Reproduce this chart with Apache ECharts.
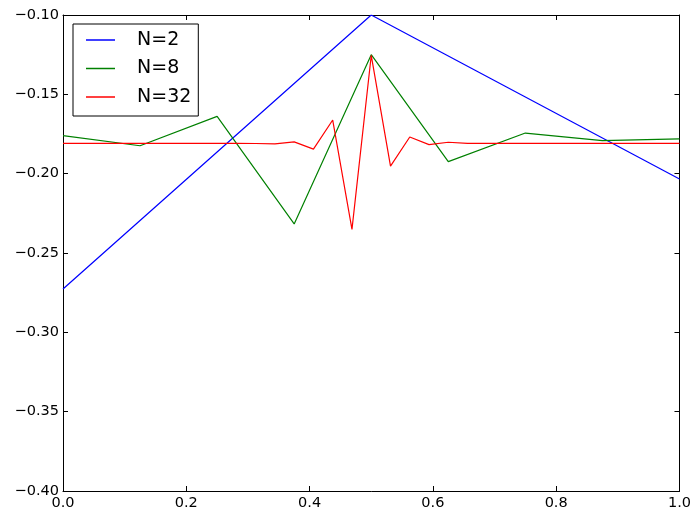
<!DOCTYPE html>
<html>
<head>
<meta charset="utf-8">
<script src="https://cdn.jsdelivr.net/npm/echarts@6/dist/echarts.min.js"></script>
<style>
html,body{margin:0;padding:0;background:#fff;}
#chart{width:694px;height:515px;}
</style>
</head>
<body>
<div id="chart"></div>
<script>
const seriesNames = ['N=2', 'N=8', 'N=32'];
const x2 = [0, 0.5, 1.0];
const y2 = [-0.2727, -0.1000, -0.2034];
const x8 = [0, 0.125, 0.25, 0.375, 0.5, 0.625, 0.75, 0.875, 1.0];
const y8 = [-0.1760, -0.1824, -0.1639, -0.2317, -0.1250, -0.1924, -0.1744, -0.1792, -0.1781];
const x32 = [0, 1/32, 2/32, 3/32, 4/32, 5/32, 6/32, 7/32, 8/32, 9/32, 10/32, 11/32, 12/32, 13/32, 14/32, 15/32, 16/32,
             17/32, 18/32, 19/32, 20/32, 21/32, 22/32, 23/32, 24/32, 25/32, 26/32, 27/32, 28/32, 29/32, 30/32, 31/32, 1.0];
const y32 = [-0.1809, -0.1809, -0.1809, -0.1809, -0.1809, -0.1809, -0.1809, -0.1809, -0.1809, -0.1809, -0.1810, -0.1812,
             -0.1800, -0.1845, -0.1662, -0.2351, -0.1255, -0.1952, -0.1769, -0.1817, -0.1802, -0.1809, -0.1809,
             -0.1809, -0.1809, -0.1809, -0.1809, -0.1809, -0.1809, -0.1809, -0.1809, -0.1809, -0.1809];
const xTicks = [0, 0.2, 0.4, 0.6, 0.8, 1.0];
const yTicks = [-0.40, -0.35, -0.30, -0.25, -0.20, -0.15, -0.10];
const colors = ['#0000ff', '#008000', '#ff0000'];

function pairs(xs, ys) { return xs.map((x, i) => [x, ys[i]]); }
const font = 'DejaVu Sans';
const fmtY = v => (v < 0 ? '\u2212' : '') + Math.abs(v).toFixed(2);
const fmtX = v => v.toFixed(1);

const axisCommon = {
  axisLine: {show: true, onZero: false, lineStyle: {color: '#000', width: 1}},
  axisTick: {show: true, inside: true, length: 5, lineStyle: {color: '#000', width: 1}},
  splitLine: {show: false}
};

const chart = echarts.init(document.getElementById('chart'), null, {renderer: 'canvas'});
chart.setOption({
  animation: false,
  backgroundColor: '#fff',
  grid: {left: 63, right: 13, top: 15, bottom: 24},
  legend: {
    data: seriesNames,
    orient: 'vertical',
    left: 73, top: 24,
    backgroundColor: '#fff',
    borderColor: '#000', borderWidth: 1, borderRadius: 0,
    padding: [6, 7, 9, 13],
    itemGap: 8.5,
    itemWidth: 29, itemHeight: 1.5,
    icon: 'rect',
    textStyle: {fontFamily: font, fontSize: 19, color: '#000', lineHeight: 20, padding: [0, 0, 0, 17]}
  },
  xAxis: [
    Object.assign({type: 'value', min: xTicks[0], max: xTicks[xTicks.length - 1], interval: 0.2, position: 'bottom',
      axisLabel: {fontFamily: font, fontSize: 14.5, color: '#000', margin: 5, formatter: fmtX}}, axisCommon),
    Object.assign({type: 'value', min: xTicks[0], max: xTicks[xTicks.length - 1], interval: 0.2, position: 'top',
      axisLabel: {show: false}}, axisCommon)
  ],
  yAxis: [
    Object.assign({type: 'value', min: yTicks[0], max: yTicks[yTicks.length - 1], interval: 0.05, position: 'left',
      axisLabel: {fontFamily: font, fontSize: 14.5, color: '#000', margin: 4, formatter: fmtY}}, axisCommon),
    Object.assign({type: 'value', min: yTicks[0], max: yTicks[yTicks.length - 1], interval: 0.05, position: 'right',
      axisLabel: {show: false}}, axisCommon)
  ],
  series: [
    {name: seriesNames[0], type: 'line', data: pairs(x2, y2), showSymbol: false, symbol: 'none',
      lineStyle: {color: colors[0], width: 1.2}, itemStyle: {color: colors[0]}},
    {name: seriesNames[1], type: 'line', data: pairs(x8, y8), showSymbol: false, symbol: 'none',
      lineStyle: {color: colors[1], width: 1.2}, itemStyle: {color: colors[1]}},
    {name: seriesNames[2], type: 'line', data: pairs(x32, y32), showSymbol: false, symbol: 'none',
      lineStyle: {color: colors[2], width: 1.2}, itemStyle: {color: colors[2]}}
  ]
});
</script>
</body>
</html>
